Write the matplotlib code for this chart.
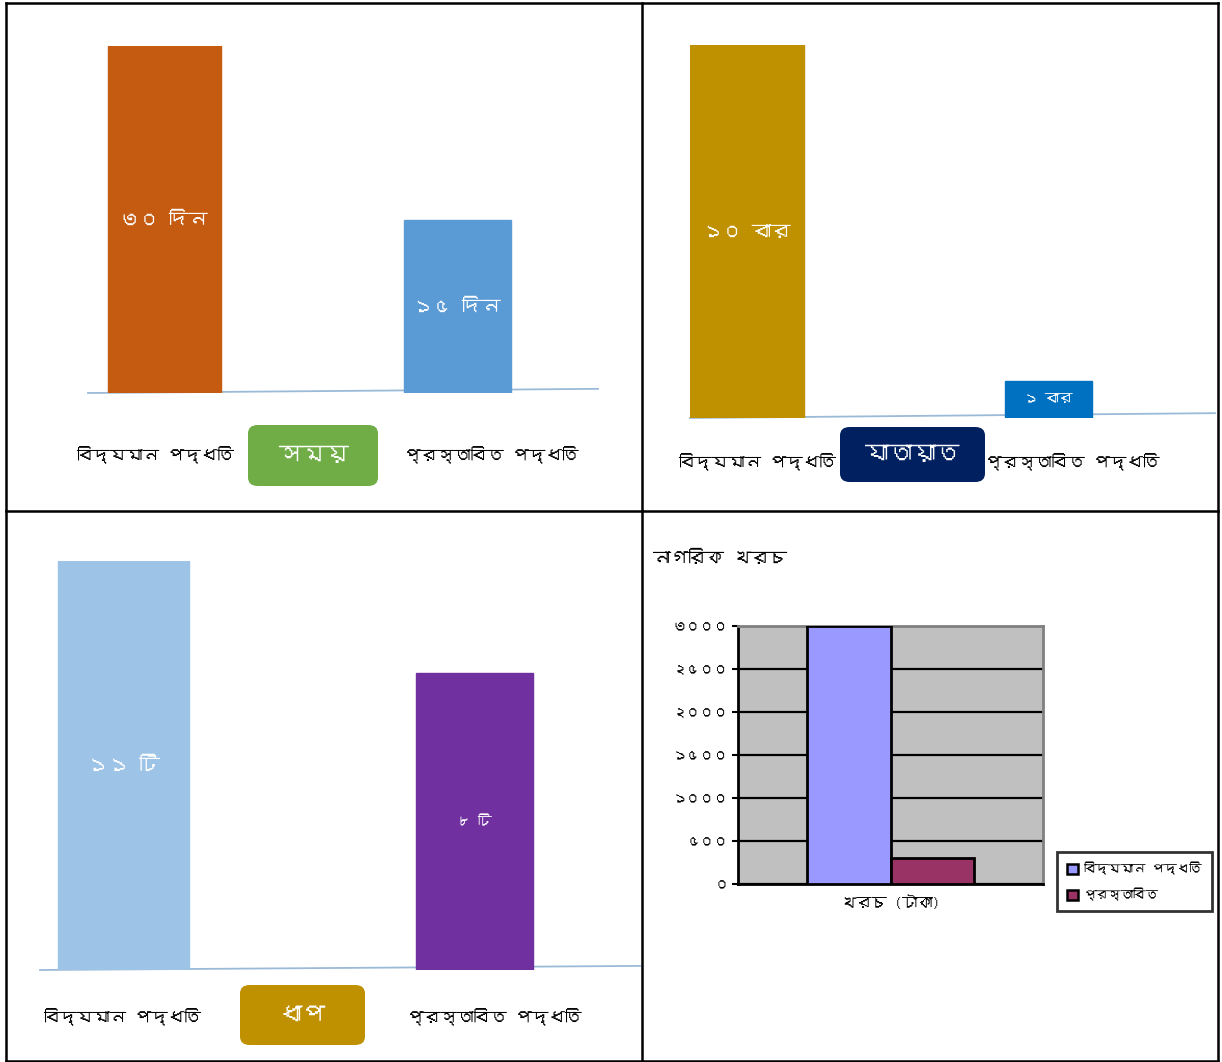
import matplotlib
matplotlib.use("Agg")
import matplotlib.pyplot as plt
from matplotlib import font_manager
from matplotlib.ft2font import FT2Font
from matplotlib.patches import FancyBboxPatch, Patch
from matplotlib.lines import Line2D


def bengali_fonts():
    found = []
    for f in font_manager.fontManager.ttflist:
        try:
            if 0x09A6 in FT2Font(f.fname).get_charmap() and f.name not in found:
                found.append(f.name)
        except Exception:
            pass
    return found


plt.rcParams['font.family'] = bengali_fonts() + ['DejaVu Sans']

# --- data ---
methods = ['বিদ্যমান পদ্ধতি', 'প্রস্তাবিত পদ্ধতি']

time_days = [30, 15]
time_labels = ['৩০ দিন', '১৫ দিন']

trips = [10, 1]
trip_labels = ['১০ বার', '১ বার']

steps = [11, 8]
step_labels = ['১১ টি', '৮ টি']

cost_title = 'নাগরিক খরচ'
cost_category = 'খরচ (টাকা)'
cost_series = ['বিদ্যমান পদ্ধতি', 'প্রস্তাবিত']
cost_values = [3000, 300]
cost_ticks = [0, 500, 1000, 1500, 2000, 2500, 3000]
cost_tick_labels = ['০', '৫০০', '১০০০', '১৫০০', '২০০০', '২৫০০', '৩০০০']

W, H = 1222, 1062
fig = plt.figure(figsize=(W / 100, H / 100), dpi=100)
fig.patch.set_facecolor('white')


def fx(x):
    return x / W


def fy(y):
    return 1 - y / H


def axes_px(x0, y0, x1, y1):
    return fig.add_axes([fx(x0), fy(y1), (x1 - x0) / W, (y1 - y0) / H])


def bar_panel(box, values, labels, colors, widths, xlim, label_sizes, slope):
    ax = axes_px(*box)
    ax.bar([0, 1], values, width=widths, color=colors, edgecolor=colors, zorder=2)
    ax.set_xlim(*xlim)
    ax.set_ylim(0, max(values))
    ax.axis('off')
    ax.plot([0, 1], [0, slope], transform=ax.transAxes, color='#9bbad8',
            lw=1.3, clip_on=False, zorder=1)
    for i, (v, t) in enumerate(zip(values, labels)):
        ax.text(i, v / 2, t, ha='center', va='center', color='white',
                fontsize=label_sizes[i])
    return ax


def footer(y, xl, xr, box, word, color, size):
    fig.text(fx(xl), fy(y), methods[0], ha='center', va='center', fontsize=12)
    fig.text(fx(xr), fy(y), methods[1], ha='center', va='center', fontsize=12)
    x0, y0, x1, y1 = box
    fig.add_artist(FancyBboxPatch((fx(x0), fy(y1)), (x1 - x0) / W, (y1 - y0) / H,
                                  boxstyle='round,pad=0,rounding_size=0.008',
                                  transform=fig.transFigure, facecolor=color,
                                  edgecolor='none'))
    fig.text(fx((x0 + x1) / 2), fy((y0 + y1) / 2), word, ha='center', va='center',
             fontsize=size, color='white', fontweight='bold')


# top-left: time
bar_panel((88, 46, 598, 393), time_days, time_labels, ['#c55a11', '#5b9bd5'],
          [0.385, 0.365], (-0.26, 1.48), [14, 14], 0.012)
footer(455, 155, 491, (248, 425, 378, 486), 'সময়', '#70ad47', 17)

# top-right: trips
bar_panel((690, 45, 1215, 418), trips, trip_labels, ['#bf9000', '#0070c0'],
          [0.38, 0.29], (-0.19, 1.553), [14, 10], 0.013)
footer(462, 757, 1072, (840, 427, 985, 482), 'যাতায়াত', '#002060', 17)

# bottom-left: steps
bar_panel((40, 561, 640, 970), steps, step_labels, ['#9dc3e6', '#7030a0'],
          [0.373, 0.333], (-0.238, 1.471), [15, 10], 0.01)
footer(1017, 122, 494, (240, 985, 365, 1045), 'ধাপ', '#bf9000', 17)

# bottom-right: citizen cost (excel style)
fig.text(fx(652), fy(558), cost_title, ha='left', va='center', fontsize=13)
ax = axes_px(738, 626, 1043, 884)
ax.set_facecolor('#c0c0c0')
bw = 0.275
cost_colors = ['#9999ff', '#993366']
bars = ax.bar([-bw / 2, bw / 2], cost_values, width=bw, color=cost_colors,
              edgecolor='black', linewidth=2, zorder=3)
ax.set_xlim(-0.5, 0.5)
ax.set_ylim(0, cost_ticks[-1])
ax.set_yticks(cost_ticks)
ax.set_yticklabels(cost_tick_labels, fontsize=10, fontweight='bold')
ax.set_xticks([0])
ax.set_xticklabels([cost_category], fontsize=11, fontweight='bold')
ax.tick_params(axis='x', length=0, pad=8)
ax.tick_params(axis='y', length=4, width=1.5, direction='out', pad=3)
ax.yaxis.grid(True, color='black', lw=1.6, zorder=1)
ax.set_axisbelow(True)
for side in ['top', 'right']:
    ax.spines[side].set_color('#808080')
    ax.spines[side].set_linewidth(2)
for side in ['left', 'bottom']:
    ax.spines[side].set_color('black')
    ax.spines[side].set_linewidth(2)

handles = [Patch(facecolor=c, edgecolor='black', linewidth=1.8) for c in cost_colors]
leg = fig.legend(handles, cost_series, loc='upper left',
                 bbox_to_anchor=(fx(1057), fy(852)), frameon=True, fancybox=False,
                 prop={'size': 9, 'weight': 'bold'}, handlelength=0.9,
                 handleheight=0.9, handletextpad=0.4, borderpad=0.8,
                 labelspacing=1.0, borderaxespad=0)
leg.get_frame().set_edgecolor('black')
leg.get_frame().set_linewidth(2)

# panel grid lines
lw = 1.8
for x in [6, 642, 1218]:
    fig.add_artist(Line2D([fx(x), fx(x)], [fy(3), fy(1061)], color='black', lw=lw))
for y in [3, 511, 1061]:
    fig.add_artist(Line2D([fx(6), fx(1218)], [fy(y), fy(y)], color='black', lw=lw))

fig.savefig('out.png', dpi=100, facecolor='white')
